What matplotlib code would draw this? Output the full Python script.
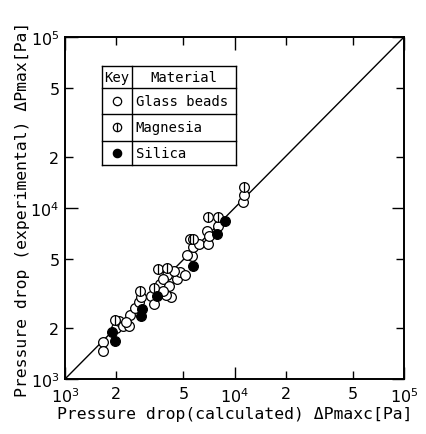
import numpy as np
import matplotlib
matplotlib.use("Agg")
import matplotlib.pyplot as plt
from matplotlib.ticker import FixedFormatter, FixedLocator

# Data (Pa)
glass_x = [1670, 1670, 2000, 2090, 2190, 2390, 2420, 2590, 2740, 2810, 3220, 3350,
           3630, 4010, 3770, 4120, 4200, 3940, 4560, 4770, 5100, 5590, 5270, 5710,
           6180, 6950, 6850, 7100, 7960, 11200, 11300, 3800, 4400, 2300]
glass_y = [1650, 1465, 1980, 2190, 2050, 2050, 2380, 2590, 2810, 3000, 3070, 2750,
           3590, 4060, 3840, 3510, 3000, 3100, 3840, 4240, 4060, 5220, 5310, 5890,
           6160, 6160, 7360, 6890, 7880, 10800, 11900, 3250, 4300, 2150]
magnesia_x = [1960, 2770, 3350, 3550, 4010, 5460, 5710, 6950, 8020, 11400]
magnesia_y = [2220, 3280, 3390, 4400, 4440, 6590, 6590, 8820, 8820, 13200]
silica_x = [1960, 1890, 2810, 2830, 3500, 5710, 7850, 8790]
silica_y = [1670, 1880, 2350, 2570, 3070, 4600, 7050, 8430]

key_rows = ["Glass beads", "Magnesia", "Silica"]

mono = "DejaVu Sans Mono"

fig = plt.figure(figsize=(4.26, 4.35), dpi=100)
ax = fig.add_axes([0.1526, 0.1264, 0.7958, 0.7862])
ax.set_xscale("log")
ax.set_yscale("log")
ax.set_xlim(1e3, 1e5)
ax.set_ylim(1e3, 1e5)

ax.plot([1e3, 1e5], [1e3, 1e5], color="black", lw=1.0, zorder=1)

ms = 7
ax.plot(glass_x, glass_y, "o", ms=ms, mfc="white", mec="black", mew=0.9, zorder=3)
ax.plot(magnesia_x, magnesia_y, "o", ms=ms, mfc="white", mec="black", mew=0.9, zorder=4)
ax.plot(magnesia_x, magnesia_y, "|", ms=ms, mec="black", mew=0.9, zorder=5)
ax.plot(silica_x, silica_y, "o", ms=ms, mfc="black", mec="black", mew=0.9, zorder=4)

# ticks: decades plus 2 and 5
for axis in (ax.xaxis, ax.yaxis):
    axis.set_major_locator(FixedLocator([1e3, 1e4, 1e5]))
    axis.set_minor_locator(FixedLocator([2e3, 5e3, 2e4, 5e4]))
    axis.set_major_formatter(FixedFormatter([r"$10^3$", r"$10^4$", r"$10^5$"]))
    axis.set_minor_formatter(FixedFormatter(["2", "5", "2", "5"]))
ax.tick_params(which="both", direction="in", top=True, right=True,
               labelsize=11.5, width=1.0)
ax.tick_params(which="major", length=9)
ax.tick_params(which="minor", length=6)
ax.tick_params(axis="x", which="both", pad=5)
ax.tick_params(axis="y", which="both", pad=4)
for s in ax.spines.values():
    s.set_linewidth(1.4)

ax.set_xlabel("Pressure drop(calculated) ΔPmaxc[Pa]", fontsize=11.8,
              family=mono, labelpad=1)
ax.set_ylabel("Pressure drop (experimental) ΔPmax[Pa]", fontsize=11.8,
              family=mono, labelpad=0)

# key table
x0, x1, xd = 0.108, 0.504, 0.197
ys = [0.916, 0.850, 0.775, 0.697, 0.627]
kw = dict(transform=ax.transAxes, color="black", lw=1.0, zorder=6)
for y in ys:
    ax.plot([x0, x1], [y, y], **kw)
for x in (x0, xd, x1):
    ax.plot([x, x], [ys[0], ys[-1]], **kw)
ax.text((x0 + xd) / 2, (ys[0] + ys[1]) / 2, "Key", transform=ax.transAxes,
        ha="center", va="center", fontsize=10, family=mono)
ax.text((xd + x1) / 2, (ys[0] + ys[1]) / 2, "Material", transform=ax.transAxes,
        ha="center", va="center", fontsize=10, family=mono)
styles = [dict(mfc="white"), dict(mfc="white"), dict(mfc="black")]
for i, name in enumerate(key_rows):
    yc = (ys[i + 1] + ys[i + 2]) / 2
    xc = (x0 + xd) / 2
    ax.plot([xc], [yc], "o", ms=6, mec="black", mew=0.9, transform=ax.transAxes,
            zorder=7, **styles[i])
    if name == "Magnesia":
        ax.plot([xc], [yc], "|", ms=6, mec="black", mew=0.9, transform=ax.transAxes, zorder=8)
    ax.text(xd + 0.012, yc, name, transform=ax.transAxes, ha="left", va="center",
            fontsize=10, family=mono)

fig.savefig("out.png", dpi=100)
